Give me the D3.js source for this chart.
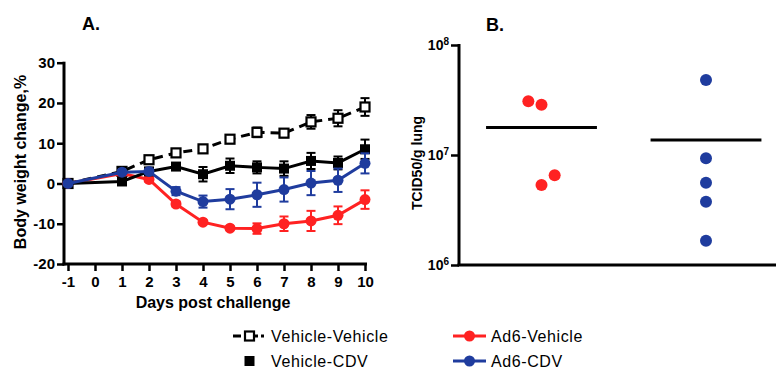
<!DOCTYPE html>
<html><head><meta charset="utf-8">
<script src="https://cdn.jsdelivr.net/npm/d3@7"></script>
<style>
body{margin:0;background:#fff}
svg{display:block}
text{font-family:"Liberation Sans",Arial,Helvetica,sans-serif}
</style>
</head><body>
<svg id="c" width="776" height="369"></svg>
<script>
// ---------- Panel A data ----------
const days = [-1, 1, 2, 3, 4, 5, 6, 7, 8, 9, 10];
const xTicksA = [-1, 0, 1, 2, 3, 4, 5, 6, 7, 8, 9, 10];
const yTicksA = [-20, -10, 0, 10, 20, 30];
const vehVehMean = [0, 3.0, 5.9, 7.6, 8.6, 11.0, 12.7, 12.5, 15.3, 16.2, 19.0];
const vehVehErr  = [0, 0.6, 0.8, 0.7, 0.8, 0.9, 1.2, 1.0, 1.7, 2.0, 2.2];
const vehCdvMean = [0, 0.5, 3.0, 4.2, 2.3, 4.4, 4.0, 3.7, 5.6, 5.1, 8.5];
const vehCdvErr  = [0, 0.5, 0.6, 0.6, 1.8, 1.8, 1.5, 1.8, 2.0, 1.6, 2.4];
const ad6VehMean = [0, 2.5, 1.0, -5.1, -9.6, -11.1, -11.2, -10.0, -9.3, -7.9, -4.0];
const ad6VehErr  = [0, 0.5, 0.6, 0.6, 0.5, 0.5, 1.3, 1.8, 2.5, 2.2, 2.3];
const ad6CdvMean = [0, 2.8, 3.0, -1.9, -4.5, -3.9, -2.8, -1.5, 0.1, 0.8, 5.0];
const ad6CdvErr  = [0, 0.5, 0.5, 1.0, 1.5, 2.5, 3.0, 3.0, 3.0, 2.9, 2.5];
const seriesNames = ["Vehicle-Vehicle", "Vehicle-CDV", "Ad6-Vehicle", "Ad6-CDV"];

// ---------- Panel B data ----------
const groupsB = ["Ad6-Vehicle", "Ad6-CDV"];
const ad6VehTiter  = [3.08e7, 2.86e7, 5.34e6, 6.53e6];
const ad6VehJitter = [-0.08, 0, 0, 0.08];
const ad6CdvTiter  = [4.81e7, 9.33e6, 5.6e6, 3.76e6, 1.66e6];
const ad6CdvJitter = [0, 0, 0, 0, 0];
const yTicksB = [1e6, 1e7, 1e8];

const RED = "#ff2222", BLUE = "#1f3c9e", BLACK = "#000";
const FONT = '"Liberation Sans",Arial,sans-serif';
const svg = d3.select("#c");

// ================= Panel A =================
const xA = d3.scaleLinear().domain([-1, 10]).range([68, 365]);
const yA = d3.scaleLinear().domain([-20, 30]).range([264, 62.7]);
const gA = svg.append("g");

const yAxA = gA.append("g").attr("transform", `translate(64,0)`)
  .call(d3.axisLeft(yA).tickValues(yTicksA).tickSize(7).tickSizeOuter(0).tickPadding(2).tickFormat(d => String(d)));
const xAxA = gA.append("g").attr("transform", `translate(0,264)`)
  .call(d3.axisBottom(xA).tickValues(xTicksA).tickSize(7).tickSizeOuter(0).tickPadding(5).tickFormat(d => String(d)));
[yAxA, xAxA].forEach(a => {
  a.attr("font-size", null).attr("font-family", null);
  a.select(".domain").remove();
  a.selectAll(".tick line").attr("stroke", BLACK).attr("stroke-width", 2.5);
  a.selectAll(".tick text").style("font-size", "15px").style("font-weight", "bold").attr("fill", BLACK)
    .style("font-family", FONT);
});
gA.append("line").attr("x1", 64).attr("x2", 64).attr("y1", yA(30) - 1).attr("y2", 265.5)
  .attr("stroke", BLACK).attr("stroke-width", 3);
gA.append("line").attr("x1", 62.5).attr("x2", 367).attr("y1", 264).attr("y2", 264)
  .attr("stroke", BLACK).attr("stroke-width", 3);

gA.append("text").attr("x", 213).attr("y", 308).attr("text-anchor", "middle")
  .attr("font-size", 16).attr("font-weight", "bold").text("Days post challenge");
gA.append("text").attr("transform", "translate(26,162) rotate(-90)").attr("text-anchor", "middle")
  .attr("font-size", 16).attr("font-weight", "bold").text("Body weight change,%");
gA.append("text").attr("x", 82).attr("y", 30).attr("font-size", 18).attr("font-weight", "bold").text("A.");

const seriesA = [
  {name: seriesNames[0], mean: vehVehMean, err: vehVehErr, color: BLACK, dash: "9,6", marker: "openSquare"},
  {name: seriesNames[2], mean: ad6VehMean, err: ad6VehErr, color: RED, dash: null, marker: "circle"},
  {name: seriesNames[1], mean: vehCdvMean, err: vehCdvErr, color: BLACK, dash: null, marker: "square"},
  {name: seriesNames[3], mean: ad6CdvMean, err: ad6CdvErr, color: BLUE, dash: null, marker: "circle"}
];

function drawMarker(g, type, x, y, color) {
  if (type === "circle") {
    g.append("circle").attr("cx", x).attr("cy", y).attr("r", 5.5).attr("fill", color);
  } else if (type === "square") {
    g.append("rect").attr("x", x - 5).attr("y", y - 5).attr("width", 10).attr("height", 10).attr("fill", color);
  } else {
    g.append("rect").attr("x", x - 4.5).attr("y", y - 4.5).attr("width", 9).attr("height", 9)
      .attr("fill", "#fff").attr("stroke", color).attr("stroke-width", 2.2);
  }
}

const line = d3.line().x((d, i) => xA(days[i])).y(d => yA(d));
seriesA.forEach(s => {
  const g = gA.append("g");
  s.mean.forEach((m, i) => {
    const e = s.err[i];
    if (!e) return;
    const x = xA(days[i]);
    g.append("line").attr("x1", x).attr("x2", x).attr("y1", yA(m - e)).attr("y2", yA(m + e))
      .attr("stroke", s.color).attr("stroke-width", 2);
    [m - e, m + e].forEach(v => g.append("line").attr("x1", x - 4.5).attr("x2", x + 4.5)
      .attr("y1", yA(v)).attr("y2", yA(v)).attr("stroke", s.color).attr("stroke-width", 2));
  });
  g.append("path").datum(s.mean).attr("d", line).attr("fill", "none")
    .attr("stroke", s.color).attr("stroke-width", 3).attr("stroke-dasharray", s.dash);
  s.mean.forEach((m, i) => drawMarker(g, s.marker, xA(days[i]), yA(m), s.color));
});

// ================= Panel B =================
const xB = d3.scaleLinear().domain([0, 1]).range([541.5, 706]);
const yB = d3.scaleLog().domain([1e6, 1e8]).range([265, 45]);
const gB = svg.append("g");
const yAxB = gB.append("g").attr("transform", "translate(459,0)")
  .call(d3.axisLeft(yB).tickValues(yTicksB).tickSize(8).tickSizeOuter(0).tickPadding(2).tickFormat(() => ""));
yAxB.attr("font-size", null).attr("font-family", null);
yAxB.select(".domain").remove();
yAxB.selectAll(".tick line").attr("stroke", BLACK).attr("stroke-width", 2.5);
yAxB.selectAll(".tick text").each(function(d) {
  const t = d3.select(this).style("font-size", "14px").style("font-weight", "bold").attr("fill", BLACK)
    .style("font-family", FONT);
  t.append("tspan").text("10");
  t.append("tspan").style("font-size", "10px").attr("dy", "-0.5em").text(String(Math.round(Math.log10(d))));
});
gB.append("line").attr("x1", 459).attr("x2", 459).attr("y1", 44).attr("y2", 266)
  .attr("stroke", BLACK).attr("stroke-width", 3);
gB.append("line").attr("x1", 457.5).attr("x2", 776).attr("y1", 265).attr("y2", 265)
  .attr("stroke", BLACK).attr("stroke-width", 3);
gB.append("text").attr("transform", "translate(422,163) rotate(-90)").attr("text-anchor", "middle")
  .attr("font-size", 14).attr("font-weight", "bold").text("TCID50/g lung");
gB.append("text").attr("x", 486).attr("y", 31).attr("font-size", 18).attr("font-weight", "bold").text("B.");

const groupData = [
  {vals: ad6VehTiter, jit: ad6VehJitter, color: RED},
  {vals: ad6CdvTiter, jit: ad6CdvJitter, color: BLUE}
];
groupData.forEach((gd, gi) => {
  const m = d3.mean(gd.vals);
  gB.append("line").attr("x1", xB(gi - 0.337)).attr("x2", xB(gi + 0.337))
    .attr("y1", yB(m)).attr("y2", yB(m)).attr("stroke", BLACK).attr("stroke-width", 3);
  gd.vals.forEach((v, i) => gB.append("circle").attr("cx", xB(gi + gd.jit[i])).attr("cy", yB(v))
    .attr("r", 6).attr("fill", gd.color));
});

// ================= Legend =================
const leg = svg.append("g");
const legItems = [
  {name: seriesNames[0], x: 233, y: 336, marker: "openSquare", color: BLACK, dash: "8,3,3,3", lineOn: true},
  {name: seriesNames[1], x: 233, y: 361, marker: "square", color: BLACK, dash: null, lineOn: false},
  {name: seriesNames[2], x: 453, y: 336, marker: "circle", color: RED, dash: null, lineOn: true},
  {name: seriesNames[3], x: 453, y: 361, marker: "circle", color: BLUE, dash: null, lineOn: true}
];
legItems.forEach(it => {
  if (it.lineOn) leg.append("line").attr("x1", it.x).attr("x2", it.x + 33).attr("y1", it.y).attr("y2", it.y)
    .attr("stroke", it.color).attr("stroke-width", 3).attr("stroke-dasharray", it.dash);
  drawMarker(leg, it.marker, it.x + 16.5, it.y, it.color);
  leg.append("text").attr("x", it.x + 38).attr("y", it.y + 6).attr("font-size", 16)
    .attr("letter-spacing", 0.6).text(it.name);
});
</script>
</body></html>
